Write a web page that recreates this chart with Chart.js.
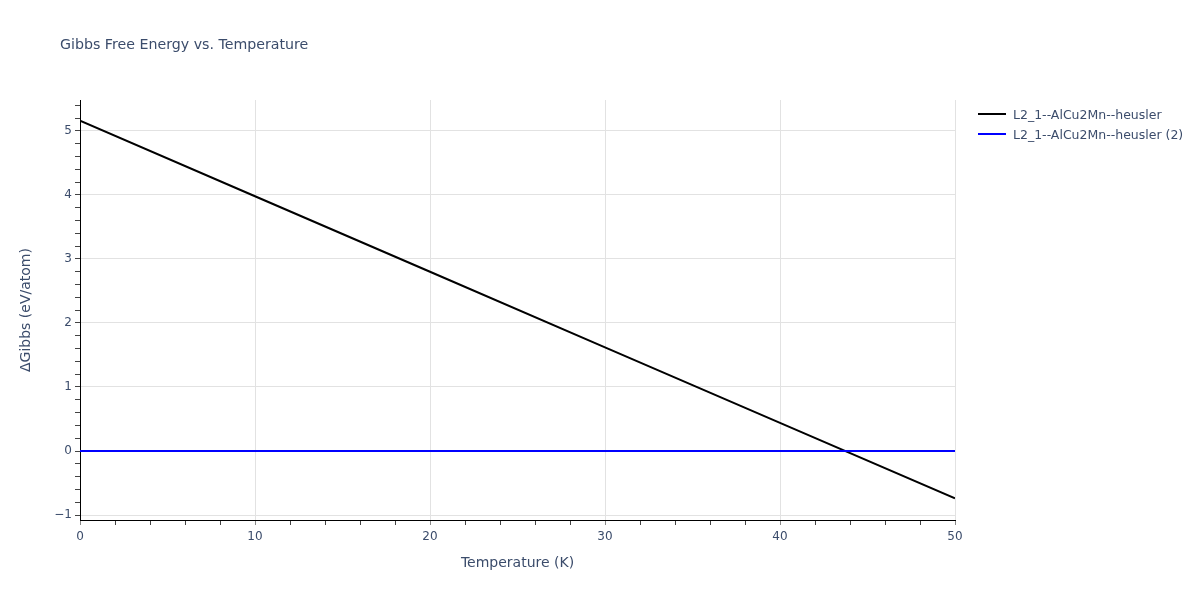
<!DOCTYPE html>
<html>
<head>
<meta charset="utf-8">
<script src="https://cdn.jsdelivr.net/npm/chart.js@4"></script>
<style>
  body { margin: 0; background: #fff; font-family: "DejaVu Sans", Verdana, sans-serif; }
  #wrap { position: relative; width: 1200px; height: 600px; }
  #title { position: absolute; left: 60px; top: 36px; font-size: 14.2px; color: #3b4c6b; }
  #legend { position: absolute; left: 978px; top: 104px; font-size: 12.5px; color: #3b4c6b; }
  .item { display: flex; align-items: center; height: 20px; }
  .swatch { width: 28px; height: 2px; margin-right: 7px; }
</style>
</head>
<body>
<div id="wrap">
  <canvas id="chart" width="1200" height="600"></canvas>
  <div id="title">Gibbs Free Energy vs. Temperature</div>
  <div id="legend"></div>
</div>
<script>
// Temperature (K)
const temperatures = [0, 10, 20, 30, 40, 50];
// ΔGibbs (eV/atom)
const gibbsHeusler = [5.16, 3.98, 2.80, 1.62, 0.44, -0.74];
const gibbsHeusler2 = [0, 0, 0, 0, 0, 0];
const seriesNames = ["L2_1--AlCu2Mn--heusler", "L2_1--AlCu2Mn--heusler (2)"];
const seriesColors = ["#000000", "#0000ff"];

const textColor = "#3b4c6b";
const gridColor = "#e2e2e2";

function isWhole(v) {
  return Math.abs(v - Math.round(v)) < 1e-6;
}

// Build legend
const legend = document.getElementById("legend");
seriesNames.forEach(function (name, i) {
  const row = document.createElement("div");
  row.className = "item";
  const sw = document.createElement("span");
  sw.className = "swatch";
  sw.style.background = seriesColors[i];
  const label = document.createElement("span");
  label.textContent = name;
  row.appendChild(sw);
  row.appendChild(label);
  legend.appendChild(row);
});

const ctx = document.getElementById("chart").getContext("2d");
new Chart(ctx, {
  type: "line",
  data: {
    datasets: [
      {
        label: seriesNames[0],
        data: temperatures.map((t, i) => ({ x: t, y: gibbsHeusler[i] })),
        borderColor: seriesColors[0],
        borderWidth: 2,
        pointRadius: 0,
        order: 1,
      },
      {
        label: seriesNames[1],
        data: temperatures.map((t, i) => ({ x: t, y: gibbsHeusler2[i] })),
        borderColor: seriesColors[1],
        borderWidth: 2,
        pointRadius: 0,
        order: 0,
      },
    ],
  },
  options: {
    responsive: false,
    animation: false,
    layout: { padding: { left: 0, top: 100, right: 245, bottom: 0 } },
    plugins: {
      legend: { display: false },
      tooltip: { enabled: false },
    },
    scales: {
      x: {
        type: "linear",
        min: 0,
        max: 50,
        afterFit: function (scale) { scale.height = 80; },
        border: { display: true, color: "#000", width: 1 },
        grid: {
          color: (c) => (c.tick && c.tick.value % 10 === 0 && c.tick.value !== 0 ? gridColor : "rgba(0,0,0,0)"),
          tickColor: (c) => (c.tick && c.tick.value % 10 === 0 ? "#888" : "#444"),
          tickLength: 5,
        },
        ticks: {
          stepSize: 2,
          autoSkip: false,
          maxRotation: 0,
          includeBounds: false,
          padding: 5,
          color: textColor,
          font: { family: "DejaVu Sans", size: 12 },
          callback: (v) => (v % 10 === 0 ? String(v) : ""),
        },
        title: {
          display: true,
          text: "Temperature (K)",
          color: textColor,
          font: { family: "DejaVu Sans", size: 14 },
          padding: { top: 0, bottom: 28 },
        },
      },
      y: {
        type: "linear",
        min: -1.078,
        max: 5.484,
        afterFit: function (scale) { scale.width = 80; },
        border: { display: true, color: "#000", width: 1 },
        grid: {
          color: (c) => (c.tick && isWhole(c.tick.value) ? gridColor : "rgba(0,0,0,0)"),
          tickColor: "#444",
          tickLength: 5,
        },
        ticks: {
          stepSize: 0.2,
          autoSkip: false,
          includeBounds: false,
          padding: 3,
          color: textColor,
          font: { family: "DejaVu Sans", size: 12 },
          callback: function (v) {
            if (!isWhole(v)) return "";
            const r = Math.round(v);
            return r < 0 ? "\u2212" + Math.abs(r) : String(r);
          },
        },
        title: {
          display: true,
          text: "\u0394Gibbs (eV/atom)",
          color: textColor,
          font: { family: "DejaVu Sans", size: 14 },
          padding: { top: 18, bottom: 0 },
        },
      },
    },
  },
});
</script>
</body>
</html>
